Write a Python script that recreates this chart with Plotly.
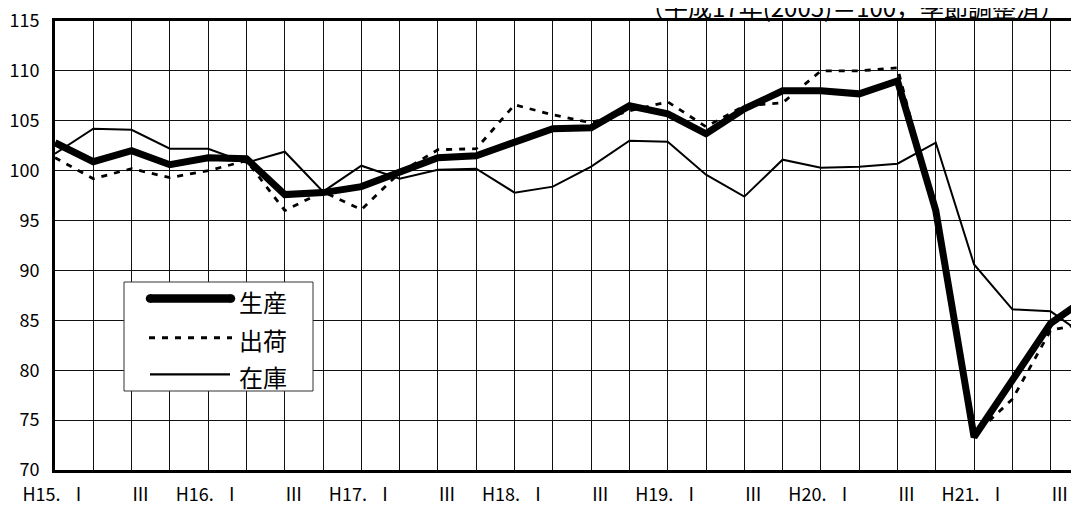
import plotly.graph_objects as go

# ---- data (quarterly, H15.I .. H21.IV) ----
quarters = [
    "H15.I", "H15.II", "H15.III", "H15.IV",
    "H16.I", "H16.II", "H16.III", "H16.IV",
    "H17.I", "H17.II", "H17.III", "H17.IV",
    "H18.I", "H18.II", "H18.III", "H18.IV",
    "H19.I", "H19.II", "H19.III", "H19.IV",
    "H20.I", "H20.II", "H20.III", "H20.IV",
    "H21.I", "H21.II", "H21.III", "H21.IV",
]
tick_labels = [
    "H15.\u2002Ⅰ", "", "\u3000Ⅲ", "",
    "H16.\u2002Ⅰ", "", "\u3000Ⅲ", "",
    "H17.\u2002Ⅰ", "", "\u3000Ⅲ", "",
    "H18.\u2002Ⅰ", "", "\u3000Ⅲ", "",
    "H19.\u2002Ⅰ", "", "\u3000Ⅲ", "",
    "H20.\u2002Ⅰ", "", "\u3000Ⅲ", "",
    "H21.\u2002Ⅰ", "", "\u3000Ⅲ", "",
]
seisan = [102.8, 100.9, 102.0, 100.6, 101.3, 101.2, 97.6, 97.8,
          98.4, 99.8, 101.3, 101.5, 102.8, 104.2, 104.3, 106.5,
          105.7, 103.7, 106.2, 108.0, 108.0, 107.7, 109.0, 96.0,
          73.3, 79.0, 84.7, 87.4]
shukka = [101.3, 99.2, 100.2, 99.3, 100.0, 101.0, 96.0, 97.9,
          96.1, 99.8, 102.1, 102.2, 106.6, 105.6, 104.8, 106.0,
          106.9, 104.4, 106.5, 106.8, 110.0, 110.0, 110.3, 95.5,
          73.5, 77.1, 84.0, 84.8]
zaiko = [101.7, 104.2, 104.1, 102.2, 102.2, 100.8, 101.9, 97.9,
         100.5, 99.2, 100.1, 100.2, 97.8, 98.4, 100.4, 103.0,
         102.9, 99.6, 97.4, 101.1, 100.3, 100.4, 100.7, 102.8,
         90.6, 86.1, 85.9, 83.2]
series_names = ["生産", "出荷", "在庫"]
y_ticks = [70, 75, 80, 85, 90, 95, 100, 105, 110, 115]
title_text = "（平成17年(2005)＝100，季節調整済）"

FONT = "Noto Sans CJK JP, sans-serif"

fig = go.Figure()
fig.add_trace(go.Scatter(x=quarters, y=zaiko, name=series_names[2], mode="lines",
                         line=dict(color="black", width=2)))
fig.add_trace(go.Scatter(x=quarters, y=shukka, name=series_names[1], mode="lines",
                         line=dict(color="black", width=2.8, dash="6px,7px")))
fig.add_trace(go.Scatter(x=quarters, y=seisan, name=series_names[0], mode="lines",
                         line=dict(color="black", width=7)))

# the page has an 8px body margin: the figure is sized to end at the window edge
fig.update_layout(
    width=1071, height=498,
    margin=dict(l=47, r=0, t=13, b=36),
    paper_bgcolor="white", plot_bgcolor="white",
    showlegend=False,
    font=dict(family=FONT, color="black", size=18),
)
fig.update_xaxes(
    type="category", categoryorder="array", categoryarray=quarters,
    range=[0, 26.74],
    tickmode="array", tickvals=quarters, ticktext=tick_labels,
    tickangle=0,
    showgrid=True, gridcolor="#111", gridwidth=1,
    showline=True, linecolor="black", linewidth=3, mirror=True,
    ticks="", ticklabelstandoff=6,
    ticklabeloverflow="allow", automargin=False,
    tickfont=dict(family=FONT, size=18, color="black"),
    zeroline=False,
)
fig.update_yaxes(
    range=[70, 115], tickmode="array", tickvals=y_ticks,
    ticktext=[str(v) for v in y_ticks],
    showgrid=True, gridcolor="#111", gridwidth=1,
    showline=True, linecolor="black", linewidth=3, mirror=False,
    ticks="", ticklabelstandoff=9,
    ticklabeloverflow="allow", automargin=False,
    tickfont=dict(family=FONT, size=18, color="black"),
    zeroline=False,
)

# ---- legend box drawn as in the original (long sample lines) ----
# helpers: window pixel -> paper fraction (plot area spans x 55..1079, y 21..470)
def px_x(p):
    return (p - 55) / 1024.0

def px_y(p):
    return (470 - p) / 449.0

shapes = [
    dict(type="rect", xref="paper", yref="paper",
         x0=px_x(124), x1=px_x(313), y0=px_y(391), y1=px_y(282),
         fillcolor="white", line=dict(color="#333", width=1), layer="above"),
    dict(type="line", xref="paper", yref="paper",
         x0=px_x(150), x1=px_x(231), y0=px_y(298.5), y1=px_y(298.5),
         line=dict(color="black", width=8.5), layer="above"),
    dict(type="line", xref="paper", yref="paper",
         x0=px_x(149), x1=px_x(232), y0=px_y(337.7), y1=px_y(337.7),
         line=dict(color="black", width=3, dash="6px,7px"), layer="above"),
    dict(type="line", xref="paper", yref="paper",
         x0=px_x(150), x1=px_x(230), y0=px_y(374.3), y1=px_y(374.3),
         line=dict(color="black", width=2.2), layer="above"),
]
# rounded caps of the thick sample
for cx in (150, 231):
    shapes.append(dict(type="circle", xref="paper", yref="paper",
                       x0=px_x(cx - 4.25), x1=px_x(cx + 4.25),
                       y0=px_y(298.5 + 4.25), y1=px_y(298.5 - 4.25),
                       fillcolor="black", line=dict(width=0), layer="above"))
fig.update_layout(shapes=shapes)

annotations = []
for name, py in zip(series_names, [301.5, 339, 376]):
    annotations.append(dict(xref="paper", yref="paper", x=px_x(237), y=px_y(py),
                             xanchor="left", yanchor="middle", showarrow=False,
                             text=name, font=dict(family=FONT, size=24, color="black")))
annotations.append(dict(xref="paper", yref="paper", x=px_x(1066), y=1.0,
                        xanchor="right", yanchor="bottom", yshift=-5, showarrow=False,
                        text=title_text,
                        font=dict(family=FONT, size=24, color="black")))
fig.update_layout(annotations=annotations)

fig.write_html("out.html")
